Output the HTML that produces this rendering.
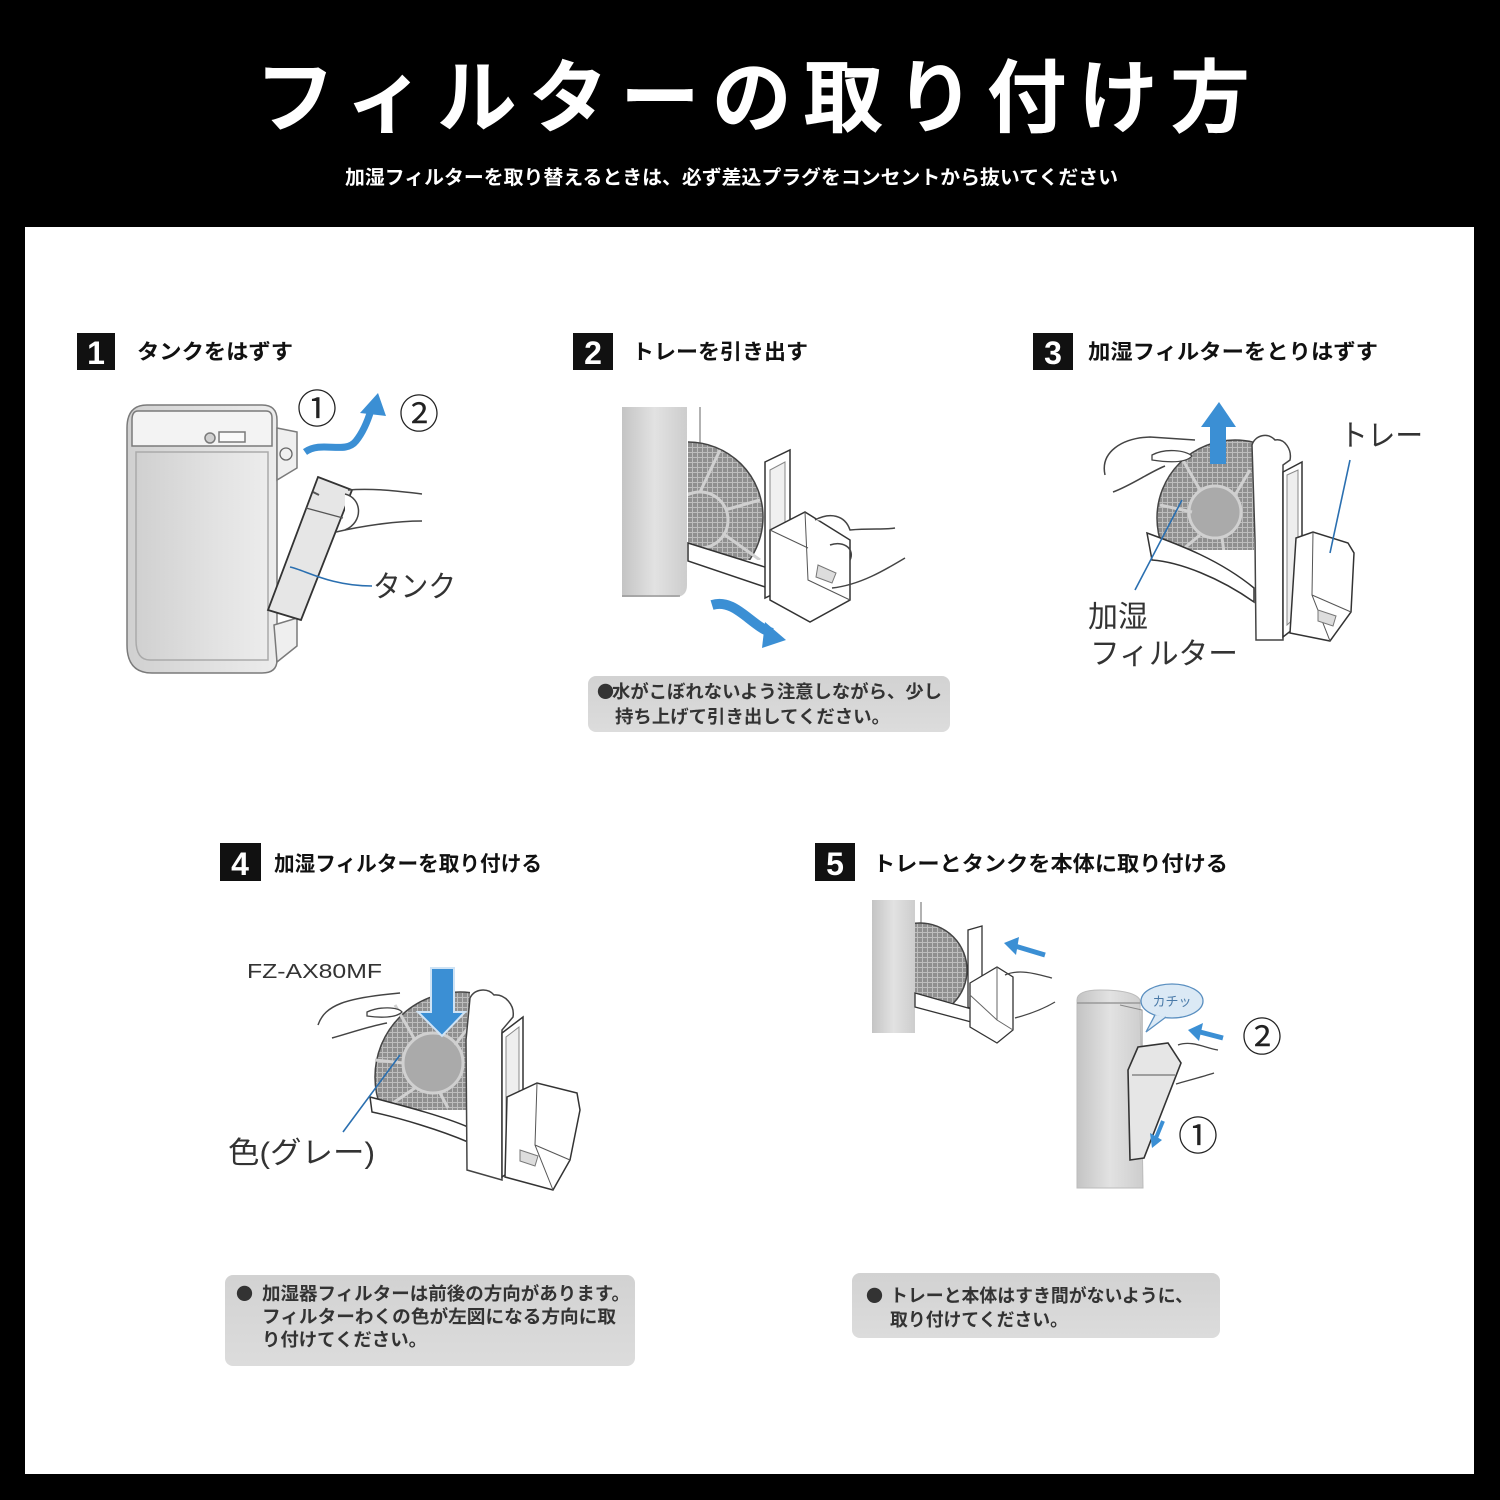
<!DOCTYPE html>
<html><head><meta charset="utf-8">
<style>
html,body{margin:0;padding:0;background:#000;width:1500px;height:1500px;overflow:hidden}
svg{display:block}
text{font-family:"Liberation Sans","Noto Sans CJK JP",sans-serif}
.cj{font-family:"Noto Sans CJK JP",sans-serif}
</style></head><body>
<svg width="1500" height="1500" viewBox="0 0 1500 1500" xmlns="http://www.w3.org/2000/svg">
<defs>
 <linearGradient id="pil" x1="0" x2="1"><stop offset="0" stop-color="#c4c4c4"/><stop offset="0.5" stop-color="#e2e2e2"/><stop offset="1" stop-color="#cdcdcd"/></linearGradient>
 <linearGradient id="face" x1="0" x2="1"><stop offset="0" stop-color="#d0d0d0"/><stop offset="0.6" stop-color="#e2e2e2"/><stop offset="1" stop-color="#ececec"/></linearGradient>
 <linearGradient id="note" x1="0" y1="0" x2="0" y2="1"><stop offset="0" stop-color="#d2d2d2"/><stop offset="1" stop-color="#dcdcdc"/></linearGradient>
 <pattern id="mesh" width="5" height="5" patternUnits="userSpaceOnUse"><rect width="5" height="5" fill="#8f8f8f"/><path d="M0 2.5h5M2.5 0v5" stroke="#bdbdbd" stroke-width="1"/></pattern>
 <clipPath id="c2"><rect x="688" y="400" width="120" height="160"/></clipPath>
 <clipPath id="c3"><rect x="1100" y="400" width="154" height="150"/></clipPath>
 <clipPath id="c4"><rect x="340" y="960" width="130" height="150"/></clipPath>
 <clipPath id="c5"><rect x="915" y="900" width="60" height="105"/></clipPath>
</defs>

<rect width="1500" height="1500" fill="#000"/>
<rect x="25" y="227" width="1449" height="1247" fill="#fff"/>

<!-- Header -->
<text x="255" y="126" font-size="80" font-weight="bold" fill="#fff" textLength="995" lengthAdjust="spacing">フィルターの取り付け方</text>
<text x="345" y="184" font-size="19.5" font-weight="bold" fill="#fff" textLength="773" lengthAdjust="spacingAndGlyphs">加湿フィルターを取り替えるときは、必ず差込プラグをコンセントから抜いてください</text>

<!-- Step headings -->
<rect x="77" y="333" width="38" height="37" fill="#111"/>
<text x="96" y="364" font-size="32" font-weight="bold" fill="#fff" text-anchor="middle">1</text>
<text x="137" y="359" font-size="21" font-weight="bold" fill="#111" textLength="156" lengthAdjust="spacingAndGlyphs">タンクをはずす</text>

<rect x="573" y="333" width="40" height="37" fill="#111"/>
<text x="593" y="364" font-size="32" font-weight="bold" fill="#fff" text-anchor="middle">2</text>
<text x="632" y="359" font-size="21" font-weight="bold" fill="#111" textLength="176" lengthAdjust="spacingAndGlyphs">トレーを引き出す</text>

<rect x="1033" y="333" width="40" height="37" fill="#111"/>
<text x="1053" y="364" font-size="32" font-weight="bold" fill="#fff" text-anchor="middle">3</text>
<text x="1088" y="359" font-size="21" font-weight="bold" fill="#111" textLength="290" lengthAdjust="spacingAndGlyphs">加湿フィルターをとりはずす</text>

<rect x="220" y="843" width="41" height="38" fill="#111"/>
<text x="240" y="875" font-size="32" font-weight="bold" fill="#fff" text-anchor="middle">4</text>
<text x="274" y="871" font-size="21" font-weight="bold" fill="#111" textLength="268" lengthAdjust="spacingAndGlyphs">加湿フィルターを取り付ける</text>

<rect x="815" y="843" width="40" height="38" fill="#111"/>
<text x="835" y="875" font-size="32" font-weight="bold" fill="#fff" text-anchor="middle">5</text>
<text x="873" y="871" font-size="21" font-weight="bold" fill="#111" textLength="355" lengthAdjust="spacingAndGlyphs">トレーとタンクを本体に取り付ける</text>

<!-- ===== Step 1 illustration ===== -->
<g stroke="#7a7a7a" stroke-width="1.5">
 <path d="M147,405 H262 Q277,405 277,420 V660 Q277,673 262,673 H152 Q127,673 127,645 V428 Q127,405 147,405Z" fill="url(#face)"/>
 <path d="M138,411 H266 Q272,411 272,418 V446 H132 V420 Q132,411 138,411Z" fill="#f3f3f3"/>
 <path d="M136,452 H268 V660 H150 Q136,660 136,640Z" fill="url(#face)" stroke="#aaa"/>
 <circle cx="210" cy="438" r="5" fill="#d0d0d0"/>
 <rect x="219" y="432" width="26" height="10" fill="#fafafa"/>
 <path d="M277,428 L297,432 V468 L277,480Z" fill="#efefef"/>
 <path d="M274,625 L297,618 V646 L277,662Z" fill="#efefef"/>
</g>
<circle cx="286" cy="454" r="6" fill="none" stroke="#666" stroke-width="1.3"/>
<path d="M318,477 L352,490 L301,620 L268,610Z" fill="#e6e6e6" stroke="#333" stroke-width="1.8"/>
<path d="M306,508 L343,518" stroke="#555" stroke-width="1.3"/>
<path d="M313,492 l6,3" stroke="#555" stroke-width="2"/>
<path d="M348,490 C372,488 398,491 422,494" stroke="#444" fill="none" stroke-width="1.5"/>
<path d="M345,494 C362,498 364,522 345,530" fill="#fff" stroke="#444" stroke-width="1.5"/>
<path d="M336,532 C362,526 395,521 422,521" stroke="#444" fill="none" stroke-width="1.5"/>
<path d="M305,452 C322,440 345,455 356,441 C364,431 368,420 371,410" stroke="#3b8fd4" stroke-width="7" fill="none"/>
<path d="M360,413 L378,393 L386,416Z" fill="#3b8fd4"/>
<text class="cj" x="297" y="423" font-size="40" fill="#222">①</text>
<text class="cj" x="399" y="428" font-size="40" fill="#222">②</text>
<path d="M290,567 C305,570 330,586 372,586" stroke="#2a6fb0" stroke-width="1.6" fill="none"/>
<text x="373" y="597" font-size="30" fill="#333" textLength="83" lengthAdjust="spacingAndGlyphs">タンク</text>

<!-- ===== Step 2 illustration ===== -->
<path d="M622,407 H687 V585 Q687,597 675,597 H622Z" fill="url(#pil)"/>
<path d="M622,596 H680" stroke="#999" stroke-width="1.5"/>
<path d="M700,407 V455" stroke="#999" stroke-width="1.5"/>
<g clip-path="url(#c2)">
 <circle cx="688" cy="517" r="75" fill="url(#mesh)" stroke="#444" stroke-width="1.5"/>
 <circle cx="700" cy="520" r="28" fill="none" stroke="#d0d0d0" stroke-width="3"/>
 <path d="M700,492 L720,450 M725,510 L760,500 M725,535 L760,560 M700,548 L705,590" stroke="#d0d0d0" stroke-width="3"/>
</g>
<path d="M688,543 L768,568 L768,588 L688,561Z" fill="#fff" stroke="#333" stroke-width="1.5"/>
<path d="M765,462 L790,450 L790,586 L765,598Z" fill="#fff" stroke="#333" stroke-width="1.5"/>
<path d="M770,470 L785,462 L785,580 L770,588Z" fill="#f0f0f0" stroke="#888"/>
<path d="M770,530 L805,512 L850,540 L850,600 L810,622 L770,600Z" fill="#fff" stroke="#333" stroke-width="1.5"/>
<path d="M805,512 L808,580 L850,600 M770,530 L808,548" stroke="#555" fill="none"/>
<path d="M818,565 l18,8 l-4,10 l-16,-6Z" fill="#ddd" stroke="#777"/>
<path d="M815,520 C830,512 845,515 850,530 C870,528 885,530 895,528" stroke="#444" fill="#fff" stroke-width="1.5"/>
<path d="M830,545 C845,540 855,550 850,560" stroke="#444" fill="none" stroke-width="1.5"/>
<path d="M832,588 C860,585 885,570 905,558" stroke="#444" fill="none" stroke-width="1.5"/>
<path d="M712,605 C735,598 750,625 772,633" stroke="#3b8fd4" stroke-width="10" fill="none"/>
<path d="M765,622 L786,640 L762,648Z" fill="#3b8fd4"/>

<rect x="588" y="676" width="362" height="56" rx="8" fill="url(#note)"/>
<text class="cj" x="597" y="698" font-size="17" fill="#333">●</text>
<text x="612" y="698" font-size="18" font-weight="bold" fill="#333" textLength="330" lengthAdjust="spacingAndGlyphs">水がこぼれないよう注意しながら、少し</text>
<text x="615" y="723" font-size="18" font-weight="bold" fill="#333" textLength="275" lengthAdjust="spacingAndGlyphs">持ち上げて引き出してください。</text>

<!-- ===== Step 3 illustration ===== -->
<g clip-path="url(#c3)">
 <circle cx="1235" cy="518" r="78" fill="url(#mesh)" stroke="#444" stroke-width="1.5"/>
 <circle cx="1215" cy="512" r="26" fill="#aaa" stroke="#d0d0d0" stroke-width="3"/>
 <path d="M1200,490 L1180,455 M1192,512 L1160,505 M1200,535 L1170,560 M1222,538 L1228,580 M1235,495 L1250,470" stroke="#d0d0d0" stroke-width="3"/>
</g>
<path d="M1147,533 C1180,545 1220,560 1254,588 L1254,602 C1220,578 1180,562 1152,560Z" fill="#fff" stroke="#333" stroke-width="1.5"/>
<path d="M1105,475 C1100,452 1122,438 1150,437 L1195,440" stroke="#444" fill="none" stroke-width="1.5"/>
<path d="M1152,455 C1165,448 1185,450 1192,456 C1185,464 1165,462 1152,460Z" fill="#fff" stroke="#444" stroke-width="1.3"/>
<path d="M1113,492 C1130,486 1150,472 1165,466" stroke="#444" fill="none" stroke-width="1.5"/>
<path d="M1252,445 C1255,435 1268,432 1275,440 C1285,438 1292,450 1290,460 L1283,465 L1283,640 L1256,640 L1255,540Z" fill="#fff" stroke="#444" stroke-width="1.5"/>
<path d="M1283,472 L1302,462 L1302,622 L1283,637Z" fill="#fff" stroke="#333" stroke-width="1.5"/>
<path d="M1287,475 L1298,470 L1298,615 L1287,625Z" fill="#eee" stroke="#888"/>
<path d="M1296,538 L1313,532 L1348,543 L1354,553 L1351,612 L1330,641 L1290,633Z" fill="#fff" stroke="#333" stroke-width="1.5"/>
<path d="M1313,532 L1312,595 L1330,641 M1312,595 L1351,612" stroke="#555" fill="none"/>
<path d="M1318,610 l18,6 l-3,10 l-15,-5Z" fill="#ddd" stroke="#777"/>
<rect x="1210" y="422" width="16" height="42" fill="#3b8fd4"/>
<path d="M1201,427 L1219,402 L1236,427Z" fill="#3b8fd4"/>
<text x="1340" y="446" font-size="30" fill="#333" textLength="83" lengthAdjust="spacingAndGlyphs">トレー</text>
<path d="M1350,460 L1330,553" stroke="#2a6fb0" stroke-width="1.6"/>
<path d="M1135,590 L1182,500" stroke="#2a6fb0" stroke-width="1.6"/>
<text x="1088" y="627" font-size="30" fill="#333">加湿</text>
<text x="1090" y="664" font-size="30" fill="#333" textLength="148" lengthAdjust="spacingAndGlyphs">フィルター</text>

<!-- ===== Step 4 illustration ===== -->
<text x="247" y="978" font-size="20" fill="#333" textLength="135" lengthAdjust="spacingAndGlyphs">FZ-AX80MF</text>
<g clip-path="url(#c4)">
 <circle cx="460" cy="1077" r="85" fill="url(#mesh)" stroke="#444" stroke-width="1.5"/>
 <circle cx="433" cy="1063" r="30" fill="#aaa" stroke="#d0d0d0" stroke-width="3"/>
 <path d="M415,1040 L395,1005 M403,1063 L375,1060 M415,1088 L390,1105 M440,1093 L448,1108 M455,1045 L470,1025" stroke="#d0d0d0" stroke-width="3"/>
</g>
<path d="M370,1097 C400,1105 440,1115 468,1127 L468,1142 C440,1130 400,1118 372,1112Z" fill="#fff" stroke="#333" stroke-width="1.5"/>
<path d="M318,1025 C325,1005 345,998 400,993" stroke="#444" fill="none" stroke-width="1.5"/>
<path d="M367,1012 C380,1006 398,1007 402,1012 C396,1018 380,1018 367,1016Z" fill="#fff" stroke="#444" stroke-width="1.3"/>
<path d="M332,1038 C350,1033 370,1026 387,1023" stroke="#444" fill="none" stroke-width="1.5"/>
<path d="M470,998 C475,988 488,988 494,995 C505,994 515,1005 513,1017 L502,1030 L502,1180 L467,1170 L466,1040Z" fill="#fff" stroke="#444" stroke-width="1.5"/>
<path d="M502,1033 L523,1017 L523,1163 L502,1177Z" fill="#fff" stroke="#333" stroke-width="1.5"/>
<path d="M506,1037 L519,1027 L519,1158 L506,1168Z" fill="#eee" stroke="#888"/>
<path d="M507,1097 L537,1083 L577,1093 L580,1110 L570,1160 L553,1190 L505,1177Z" fill="#fff" stroke="#333" stroke-width="1.5"/>
<path d="M537,1083 L535,1145 L553,1190 M535,1145 L570,1160" stroke="#555" fill="none"/>
<path d="M520,1150 l18,6 l-3,10 l-15,-5Z" fill="#ddd" stroke="#777"/>
<path d="M431,968 H454 V1012 H465 L442,1036 L418,1012 H431Z" fill="#3b8fd4" stroke="#cfe3f5" stroke-width="2"/>
<path d="M343,1132 L400,1055" stroke="#2a6fb0" stroke-width="1.6"/>
<text x="228" y="1163" font-size="30" fill="#333" textLength="147" lengthAdjust="spacingAndGlyphs">色(グレー)</text>

<rect x="225" y="1275" width="410" height="91" rx="8" fill="url(#note)"/>
<text class="cj" x="236" y="1300" font-size="17" fill="#333">●</text>
<text x="262" y="1300" font-size="18" font-weight="bold" fill="#333" textLength="368" lengthAdjust="spacingAndGlyphs">加湿器フィルターは前後の方向があります。</text>
<text x="262" y="1323" font-size="18" font-weight="bold" fill="#333" textLength="354" lengthAdjust="spacingAndGlyphs">フィルターわくの色が左図になる方向に取</text>
<text x="262" y="1346" font-size="18" font-weight="bold" fill="#333" textLength="165" lengthAdjust="spacingAndGlyphs">り付けてください。</text>

<!-- ===== Step 5 illustration ===== -->
<rect x="872" y="900" width="43" height="133" fill="url(#pil)"/>
<path d="M921,902 V927" stroke="#999" stroke-width="1.5"/>
<g clip-path="url(#c5)">
 <circle cx="920" cy="970" r="47" fill="url(#mesh)" stroke="#444" stroke-width="1.5"/>
</g>
<path d="M915,993 L975,1010 L975,1023 L915,1007Z" fill="#fff" stroke="#333" stroke-width="1.3"/>
<path d="M968,930 L982,926 L982,1017 L968,1007Z" fill="#fff" stroke="#333" stroke-width="1.3"/>
<path d="M970,983 L997,967 L1013,977 L1013,1030 L997,1043 L970,1027Z" fill="#fff" stroke="#333" stroke-width="1.3"/>
<path d="M997,967 L997,1020 L1013,1030 M970,995 L997,1020" stroke="#666" fill="none"/>
<path d="M1005,975 C1020,968 1040,975 1052,978" stroke="#444" fill="none" stroke-width="1.3"/>
<path d="M1015,1018 C1030,1014 1045,1008 1055,1002" stroke="#444" fill="none" stroke-width="1.3"/>
<path d="M1045,955 L1015,946" stroke="#3b8fd4" stroke-width="5"/>
<path d="M1019,937 L1004,943 L1016,955Z" fill="#3b8fd4"/>

<path d="M1077,1000 Q1077,990 1100,990 Q1135,990 1140,1000 L1143,1188 L1077,1188Z" fill="url(#pil)" stroke="#bbb"/>
<path d="M1077,1003 H1140" stroke="#999" stroke-width="1.5"/>
<path d="M1120,1005 L1142,1010 L1142,1050" stroke="#888" fill="none"/>
<path d="M1138,1047 L1168,1043 L1181,1063 L1144,1158 L1130,1160 L1128,1070Z" fill="#e6e6e6" stroke="#333" stroke-width="1.6"/>
<path d="M1132,1075 L1175,1075" stroke="#555"/>
<path d="M1178,1045 C1192,1040 1205,1048 1218,1050" stroke="#444" fill="none" stroke-width="1.3"/>
<path d="M1176,1084 C1190,1080 1205,1076 1214,1073" stroke="#444" fill="none" stroke-width="1.3"/>
<ellipse cx="1172" cy="1001" rx="31" ry="17" fill="#dbe9f5" stroke="#5a8fc0" stroke-width="1.3"/>
<path d="M1155,1015 L1146,1032 L1166,1017" fill="#dbe9f5" stroke="#5a8fc0" stroke-width="1.3"/>
<text x="1172" y="1006" font-size="13" fill="#4a7aa8" text-anchor="middle">カチッ</text>
<path d="M1223,1038 L1200,1032" stroke="#3b8fd4" stroke-width="5"/>
<path d="M1203,1023 L1188,1030 L1199,1041Z" fill="#3b8fd4"/>
<text class="cj" x="1242" y="1051" font-size="40" fill="#222">②</text>
<path d="M1163,1121 L1156,1138" stroke="#3b8fd4" stroke-width="4"/>
<path d="M1150,1133 L1152,1148 L1162,1140Z" fill="#3b8fd4"/>
<text class="cj" x="1178" y="1150" font-size="40" fill="#222">①</text>

<rect x="852" y="1273" width="368" height="65" rx="8" fill="url(#note)"/>
<text class="cj" x="866" y="1302" font-size="17" fill="#333">●</text>
<text x="890" y="1302" font-size="18" font-weight="bold" fill="#333" textLength="303" lengthAdjust="spacingAndGlyphs">トレーと本体はすき間がないように、</text>
<text x="890" y="1326" font-size="18" font-weight="bold" fill="#333" textLength="178" lengthAdjust="spacingAndGlyphs">取り付けてください。</text>
</svg>
</body></html>
